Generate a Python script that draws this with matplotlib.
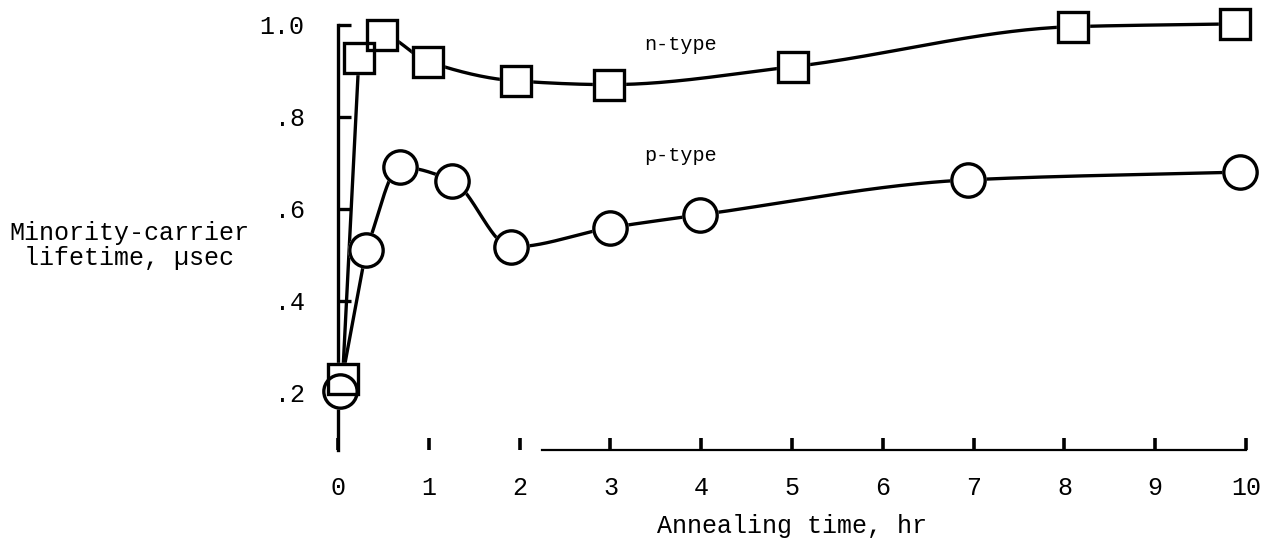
import numpy as np
import matplotlib
matplotlib.use("Agg")
import matplotlib.pyplot as plt

plt.rcParams["font.family"] = ["Liberation Mono", "DejaVu Sans Mono"]

# Annealing time (hr) and minority-carrier lifetime (usec)
n_time = [0.05, 0.23, 0.48, 0.99, 1.96, 2.99, 5.01, 8.1, 9.88]
n_life = [0.230, 0.928, 0.978, 0.920, 0.878, 0.870, 0.909, 0.996, 1.002]

p_time = [0.02, 0.31, 0.68, 1.26, 1.91, 3.0, 3.99, 6.94, 9.93]
p_life = [0.204, 0.511, 0.691, 0.661, 0.517, 0.559, 0.587, 0.663, 0.680]

x_ticks = [0, 1, 2, 3, 4, 5, 6, 7, 8, 9, 10]
y_ticks = [0.2, 0.4, 0.6, 0.8, 1.0]
y_tick_labels = [".2", ".4", ".6", ".8", "1.0"]


def smooth(xs, ys, n=60):
    """Shape-preserving cubic Hermite curve through the points."""
    xs = np.asarray(xs, float)
    ys = np.asarray(ys, float)
    h = np.diff(xs)
    d = np.diff(ys) / h
    m = np.zeros_like(ys)
    m[0], m[-1] = d[0], d[-1]
    for i in range(1, len(xs) - 1):
        if d[i - 1] * d[i] > 0:
            w1 = 2 * h[i] + h[i - 1]
            w2 = h[i] + 2 * h[i - 1]
            m[i] = (w1 + w2) / (w1 / d[i - 1] + w2 / d[i])
    out_x, out_y = [], []
    t = np.linspace(0, 1, n)
    h00 = 2 * t**3 - 3 * t**2 + 1
    h10 = t**3 - 2 * t**2 + t
    h01 = -2 * t**3 + 3 * t**2
    h11 = t**3 - t**2
    for i in range(len(h)):
        out_x.append(xs[i] + t * h[i])
        out_y.append(h00 * ys[i] + h10 * h[i] * m[i] + h01 * ys[i + 1] + h11 * h[i] * m[i + 1])
    return np.concatenate(out_x), np.concatenate(out_y)


fig = plt.figure(figsize=(12.69, 5.44), dpi=100)
ax = fig.add_axes([338 / 1269, 1 - 450 / 544, (1246 - 338) / 1269, (450 - 11) / 544])
ax.set_xlim(0, 10)
ax.set_ylim(0.076, 1.03)

line_kw = dict(color="black", lw=2.4, solid_capstyle="round", zorder=2)

# steep first legs are ruled straight, the rest follows a smooth curve
ax.plot(n_time[:2], n_life[:2], **line_kw)
ax.plot(*smooth(n_time[1:], n_life[1:]), **line_kw)
ax.plot(p_time[:2], p_life[:2], **line_kw)
ax.plot(*smooth(p_time[1:], p_life[1:]), **line_kw)

# white fills hide the curves, outlines go on top so overlapping symbols both show
for xs, ys, mk, size in ((n_time, n_life, "s", 21), (p_time, p_life, "o", 24)):
    ax.plot(xs, ys, ls="none", marker=mk, ms=size, mfc="white", mec="white",
            mew=2.4, zorder=3, clip_on=False)
for xs, ys, mk, size in ((n_time, n_life, "s", 21), (p_time, p_life, "o", 24)):
    ax.plot(xs, ys, ls="none", marker=mk, ms=size, mfc="none", mec="black",
            mew=2.4, zorder=4, clip_on=False)

ax.text(3.77, 0.957, "n-type", ha="center", va="center", fontsize=14.5)
ax.text(3.77, 0.717, "p-type", ha="center", va="center", fontsize=14.5)

for side in ("top", "right"):
    ax.spines[side].set_visible(False)
ax.spines["left"].set_bounds(0.076, 1.0)
ax.spines["left"].set_linewidth(2.4)
ax.spines["bottom"].set_bounds(2.25, 10)
ax.spines["bottom"].set_linewidth(1.6)

ax.set_xticks(x_ticks)
ax.set_xticklabels([str(v) for v in x_ticks], fontsize=18)
ax.set_yticks(y_ticks)
ax.set_yticklabels(y_tick_labels, fontsize=18)
ax.tick_params(axis="x", direction="in", length=9, width=2.6, pad=19)
ax.tick_params(axis="y", direction="in", length=9, width=2.4, pad=24)

ax.set_xlabel("Annealing time, hr", fontsize=18, labelpad=10)
ax.set_ylabel("Minority-carrier\nlifetime, \u00b5sec", rotation=0, fontsize=18,
              ha="center", va="center", multialignment="center", linespacing=1.05)
ax.yaxis.set_label_coords(-0.23, 0.465)

fig.savefig("out.png", dpi=100, facecolor="white")
